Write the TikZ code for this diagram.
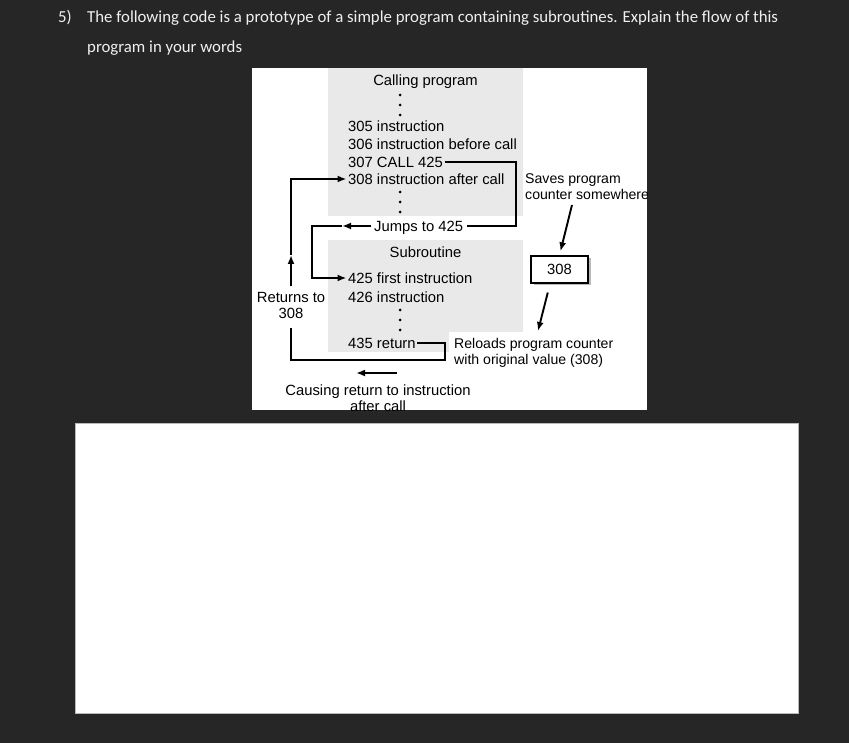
\documentclass[tikz,border=0pt]{standalone}
\usepackage{fontspec}
\setmainfont{Liberation Sans}
\newfontfamily\headfont{Carlito}
\usetikzlibrary{arrows.meta,positioning,shadows}
\definecolor{pagedark}{HTML}{262626}
\definecolor{codegray}{HTML}{E9E9E9}

\begin{document}
\begin{tikzpicture}[
  x=1pt, y=-1pt,
  line/.style={line width=1.9pt},
  arrow/.style={line width=1.9pt, -{Latex[length=9pt,width=7pt]}},
  codebox/.style={fill=codegray, inner sep=0pt, minimum width=195pt},
  codeline/.style={anchor=west, inner xsep=1.5pt, inner ysep=0pt, text height=10.6pt, text depth=0pt, font=\fontsize{14.8}{15.8}\selectfont},
  note/.style={inner sep=0pt, font=\fontsize{14.8}{15.8}\selectfont},
  sidenote/.style={note, align=left, anchor=north west, font=\fontsize{14.1}{15.8}\selectfont},
  heading/.style={anchor=base west, inner sep=0pt, text=white!94!black, font=\headfont\fontsize{16.8}{20}\selectfont}
]
\useasboundingbox (0,0) rectangle (849,743);
\fill[pagedark] (0,0) rectangle (849,743);

\node[heading] (qnum)   at (58,23) {5)};
\node[heading] (qline1) at (87,23) {The following code is a prototype of a simple program containing subroutines. Explain the flow of this};
\node[heading] (qline2) at (87,53) {program in your words};

\begin{scope}
\clip (252,68) rectangle (647,410);
\fill[white] (252,68) rectangle (647,410);

\node[codebox, minimum height=148pt] (callbox) at (425.5,142) {};
\node[codebox, minimum height=112pt] (subbox)  at (425.5,296) {};

\node[note, anchor=north, below=6.5pt of callbox.north] (calltitle) {Calling program};
\node[codeline] (l305) at (346.5,126) {305 instruction};
\node[codeline] (l306) at (346.5,144) {306 instruction before call};
\node[codeline] (l307) at (346.5,162) {307 CALL 425};
\node[codeline] (l308) at (346.5,179) {308 instruction after call};
\node[codeline] (jumps) at (372.5,226) {Jumps to 425};

\node[note, anchor=north, below=6.5pt of subbox.north] (subtitle) {Subroutine};
\node[codeline] (l425) at (346.5,278) {425 first instruction};
\node[codeline] (l426) at (346.5,297) {426 instruction};
\node[codeline] (l435) at (346.5,343) {435 return};

\foreach \y in {95,105,115,192,202,212,310,320,330}
  \fill (400,\y) circle (1.5pt);

\node[note, align=center, anchor=north] (returns) at (291,292.5) {Returns to\\308};
\node[sidenote] (saves) at (525,173.5) {Saves program\\counter somewhere};
\node[sidenote, fill=white, inner xsep=5pt, inner ysep=6pt] (reloads) at (449,332)
  {Reloads program counter\\with original value (308)};
\node[note, align=center, anchor=north] (causing) at (378,384.5) {Causing return to instruction\\after call};

\node[draw, line width=1.6pt, fill=white, minimum width=57pt, minimum height=27pt, inner sep=0pt,
  font=\fontsize{14.8}{15.8}\selectfont,
  drop shadow={shadow xshift=2.5pt, shadow yshift=-2.5pt, fill=gray!55, opacity=1}] (box308) at (559.5,269.5) {308};

\coordinate (jumpturn) at (516,226);
\coordinate (jumpmid) at (342,226);
\coordinate (jumpcorner) at (312,226);
\coordinate (retcorner) at (445,360);
\coordinate (retmid) at (291,255);
\coordinate (savetail) at (572,205);
\coordinate (reloadtip) at (538,331);
\coordinate (causetail) at (397,373);
\coordinate (causetip) at (356,373);

% call and jump into the subroutine
\draw[line] (l307.east) -| (jumpturn) -- ([xshift=2pt]jumps.east);
\draw[arrow] ([xshift=-2pt]jumps.west) -- (jumpmid);
\draw[arrow] (jumpmid) -- (jumpcorner) |- (l425.west);

% return to the caller
\draw[line] (l435.east) -| (retcorner) -| ([yshift=-9pt]returns.south);
\draw[arrow] ([yshift=6pt]returns.north) -- (retmid);
\draw[arrow] (retmid) |- (l308.west);

\draw[arrow, shorten >=4pt] (savetail) -- (box308.north);
\draw[arrow, shorten <=9pt] ([xshift=-9.5pt]box308.south) -- (reloadtip);
\draw[arrow] (causetail) -- (causetip);
\end{scope}

\draw[gray!55, fill=white, line width=1pt] (75,423) rectangle (798,713);
\end{tikzpicture}
\end{document}
